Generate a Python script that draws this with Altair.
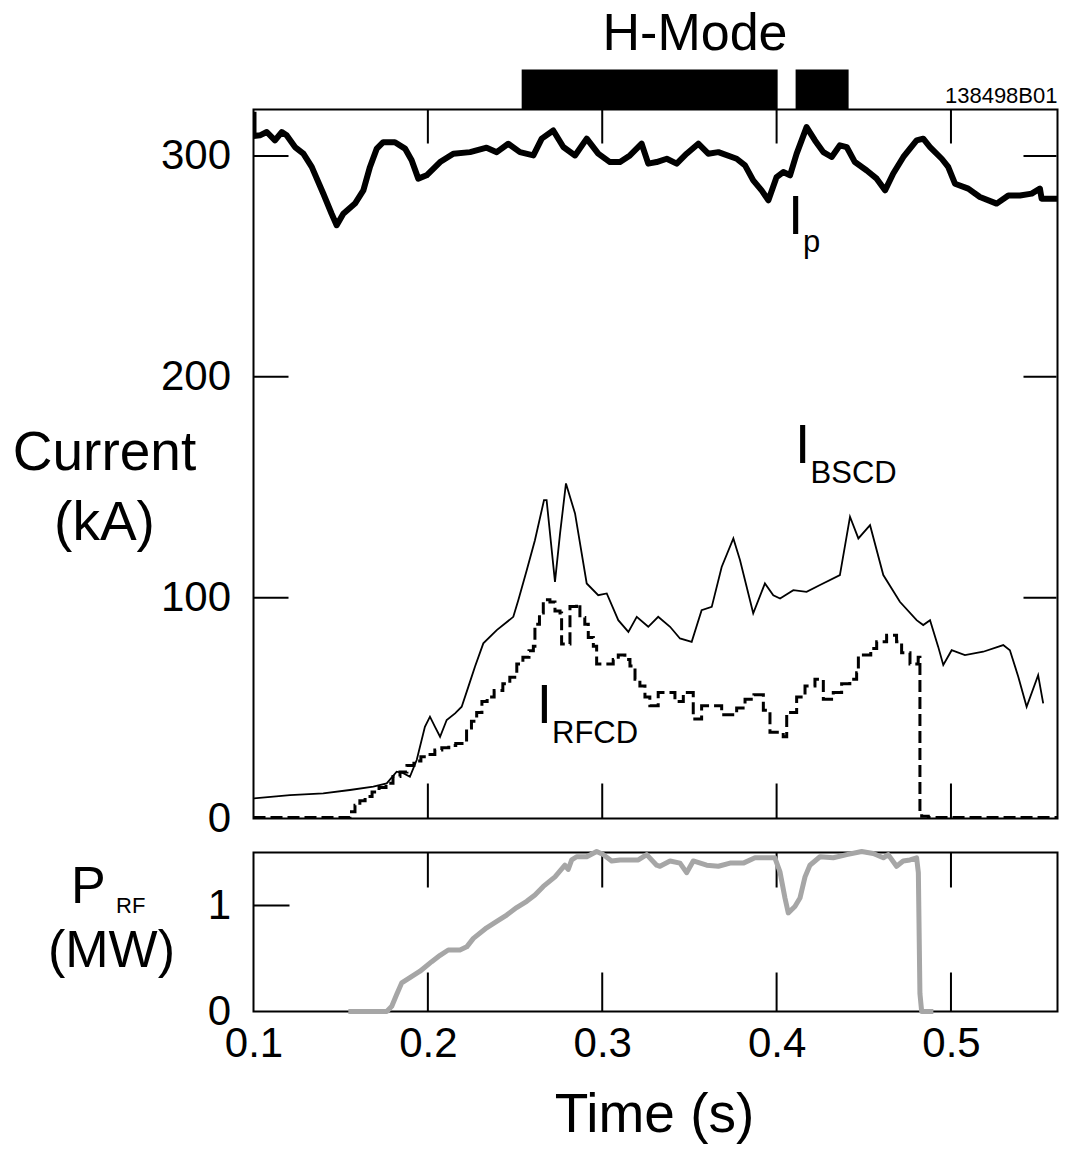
import altair as alt
import pandas as pd

FONT = "Liberation Sans"

# ---------------- data ----------------
# Plasma current I_p (kA)
ip_t = [0.1000, 0.1000, 0.1037, 0.1076, 0.1123, 0.1162, 0.1190, 0.1238, 0.1286, 0.1334,
        0.1400, 0.1448, 0.1477, 0.1515, 0.1582, 0.1630, 0.1668, 0.1707, 0.1744, 0.1811,
        0.1869, 0.1907, 0.1945, 0.1993, 0.2070, 0.2146, 0.2242, 0.2337, 0.2395, 0.2461,
        0.2528, 0.2605, 0.2653, 0.2719, 0.2777, 0.2844, 0.2911, 0.2977, 0.3044, 0.3102,
        0.3159, 0.3226, 0.3264, 0.3312, 0.3370, 0.3427, 0.3484, 0.3551, 0.3608, 0.3666,
        0.3771, 0.3819, 0.3866, 0.3914, 0.3953, 0.4000, 0.4038, 0.4077, 0.4115, 0.4172,
        0.4220, 0.4268, 0.4316, 0.4363, 0.4402, 0.4449, 0.4517, 0.4574, 0.4622, 0.4669,
        0.4727, 0.4803, 0.4841, 0.4880, 0.4947, 0.4984, 0.5023, 0.5099, 0.5166, 0.5262,
        0.5329, 0.5396, 0.5463, 0.5510, 0.5520, 0.5625]
ip_v = [320, 309, 309.3, 310.8, 307, 310.8, 309.3, 304, 301, 295,
        283, 273.8, 268.6, 273.8, 278.4, 284.4, 295, 303.3, 306.2, 306.2,
        303.3, 298, 289.7, 291.2, 297.2, 301, 301.7, 303.7, 301.7, 305.5,
        301.7, 300.2, 307.8, 311.5, 304, 300.2, 307.8, 301, 297.2, 297.2,
        300.2, 305.5, 296.5, 297.2, 298.7, 296.5, 301, 305.5, 301, 301.7,
        298.7, 295.7, 288.9, 284.4, 279.9, 290.4, 292.7, 291.2, 301, 313,
        307, 301.7, 299.5, 304.8, 304, 297.2, 293.4, 289.7, 284.4, 292,
        299.5, 307, 307.8, 304, 298.7, 295, 287.4, 285.2, 281.4, 278.4,
        282.1, 282.1, 282.9, 285.2, 280.6, 280.6]

# Bootstrap current I_BSCD (kA)
bs_t = [0.1000, 0.1209, 0.1400, 0.1553, 0.1687, 0.1764, 0.1821, 0.1859, 0.1897, 0.1936,
        0.1983, 0.2012, 0.2041, 0.2070, 0.2108, 0.2156, 0.2194, 0.2232, 0.2270, 0.2318,
        0.2395, 0.2490, 0.2519, 0.2567, 0.2614, 0.2666, 0.2681, 0.2729, 0.2758, 0.2792,
        0.2844, 0.2911, 0.2977, 0.3026, 0.3092, 0.3150, 0.3198, 0.3264, 0.3321, 0.3389,
        0.3446, 0.3513, 0.3570, 0.3628, 0.3685, 0.3752, 0.3790, 0.3866, 0.3933, 0.3981,
        0.4020, 0.4096, 0.4172, 0.4249, 0.4363, 0.4421, 0.4469, 0.4536, 0.4612, 0.4707,
        0.4803, 0.4841, 0.4880, 0.4927, 0.4956, 0.5004, 0.5080, 0.5185, 0.5300, 0.5338,
        0.5386, 0.5434, 0.5500, 0.5529]
bs_v = [9.1, 10.6, 11.4, 12.9, 14.4, 15.9, 21.2, 20.5, 18.9, 26.5,
        41.5, 46.1, 41.5, 37.0, 44.6, 47.6, 50.6, 59.6, 68.7, 79.3,
        85.3, 91.3, 98.9, 112.4, 126.0, 144.1, 144.1, 107.1, 129.0, 151.7,
        138.1, 106.4, 101.1, 101.9, 89.8, 84.5, 91.3, 86.8, 91.3, 86.8,
        81.5, 80.0, 94.3, 95.8, 113.9, 126.8, 117.0, 92.9, 106.4, 101.1,
        99.6, 103.4, 102.6, 105.7, 110.2, 136.6, 126.8, 132.8, 110.2, 98.1,
        89.8, 87.6, 89.8, 77.7, 69.5, 76.2, 74.0, 75.5, 78.5, 76.2,
        64.2, 50.6, 64.9, 52.1]

# RF driven current I_RFCD (kA), stepped
rf_t = [0.1000, 0.1553, 0.1582, 0.1610, 0.1640, 0.1680, 0.1720, 0.1760, 0.1800, 0.1840,
        0.1880, 0.1920, 0.1960, 0.2000, 0.2040, 0.2080, 0.2120, 0.2160, 0.2222, 0.2250,
        0.2280, 0.2310, 0.2340, 0.2380, 0.2430, 0.2470, 0.2510, 0.2545, 0.2580, 0.2605,
        0.2614, 0.2640, 0.2662, 0.2700, 0.2729, 0.2758, 0.2767, 0.2815, 0.2853, 0.2872,
        0.2900, 0.2920, 0.2949, 0.2968, 0.3063, 0.3092, 0.3130, 0.3159, 0.3188, 0.3216,
        0.3245, 0.3273, 0.3321, 0.3417, 0.3465, 0.3522, 0.3570, 0.3685, 0.3771, 0.3819,
        0.3870, 0.3924, 0.3962, 0.4038, 0.4058, 0.4115, 0.4163, 0.4220, 0.4268, 0.4325,
        0.4373, 0.4420, 0.4459, 0.4469, 0.4540, 0.4574, 0.4631, 0.4688, 0.4717, 0.4765,
        0.4812, 0.4822, 0.4832, 0.4870, 0.5625]
rf_v = [0.5, 3, 6, 8, 10, 12, 14, 16, 19, 21,
        24, 26, 28, 29, 31, 32, 33, 34, 41, 44,
        48, 53, 55, 58, 61, 64, 70, 73, 76, 78,
        88, 93, 99, 98, 94, 93, 79, 96, 97, 91,
        88, 82, 78, 70, 72, 74, 72, 69, 63, 60,
        55, 51, 57, 53, 57, 45, 51, 47, 50, 54,
        56, 49, 39, 37, 48, 55, 60, 63, 54, 57,
        61, 63, 66, 74, 77, 80, 83, 80, 75, 70,
        73, 2, 1, 0.5, 0.5]

# RF power P_RF (MW)
pr_t = [0.1544, 0.1764, 0.1793, 0.1821, 0.1850, 0.1897, 0.1955, 0.2022, 0.2070, 0.2117,
        0.2184, 0.2223, 0.2261, 0.2337, 0.2395, 0.2452, 0.2509, 0.2567, 0.2614, 0.2662,
        0.2729, 0.2786, 0.2805, 0.2825, 0.2853, 0.2911, 0.2968, 0.3006, 0.3054, 0.3102,
        0.3150, 0.3207, 0.3255, 0.3312, 0.3331, 0.3389, 0.3446, 0.3484, 0.3522, 0.3599,
        0.3666, 0.3733, 0.3809, 0.3876, 0.3933, 0.3990, 0.4019, 0.4048, 0.4067, 0.4105,
        0.4134, 0.4163, 0.4191, 0.4249, 0.4325, 0.4402, 0.4488, 0.4554, 0.4612, 0.4640,
        0.4688, 0.4726, 0.4765, 0.4803, 0.4813, 0.4822, 0.4832, 0.4899]
pr_v = [0, 0, 0.05, 0.16, 0.27, 0.32, 0.38, 0.47, 0.53, 0.58,
        0.58, 0.61, 0.69, 0.79, 0.85, 0.91, 0.98, 1.04, 1.10, 1.18,
        1.27, 1.38, 1.34, 1.43, 1.46, 1.46, 1.51, 1.48, 1.42, 1.43,
        1.43, 1.43, 1.48, 1.38, 1.37, 1.42, 1.40, 1.31, 1.42, 1.38,
        1.37, 1.40, 1.40, 1.45, 1.45, 1.45, 1.32, 1.07, 0.93, 0.99,
        1.07, 1.27, 1.38, 1.46, 1.45, 1.48, 1.51, 1.49, 1.45, 1.48,
        1.37, 1.42, 1.43, 1.45, 1.31, 0.17, 0, 0]

# H-mode intervals (s)
hmode_start = [0.2538, 0.4109]
hmode_end = [0.4006, 0.4413]

# tick values
x_labels = [0.1, 0.2, 0.3, 0.4, 0.5]
x_inner_ticks = [0.2, 0.3, 0.4, 0.5]
y_top_labels = [0, 100, 200, 300]
y_top_ticks = [100, 200, 300]
y_bot_labels = [0, 1]
y_bot_ticks = [1]

# ---------------- layout ----------------
W = 804
H_TOP = 709
H_BOT = 159

XS = alt.Scale(domain=[0.1, 0.5611], nice=False, zero=False)
YS_TOP = alt.Scale(domain=[0, 321], nice=False, zero=False)
YS_BOT = alt.Scale(domain=[0, 1.5], nice=False, zero=False)

y_axis_top = alt.Axis(values=y_top_labels, ticks=False, domain=False, grid=False,
                      labelFontSize=42, labelFont=FONT, labelColor="black",
                      labelPadding=23, labelFlush=False, title=None)
y_axis_bot = alt.Axis(values=y_bot_labels, ticks=False, domain=False, grid=False,
                      labelFontSize=42, labelFont=FONT, labelColor="black",
                      labelPadding=23, labelFlush=False, title=None)
x_axis_bot = alt.Axis(values=x_labels, format=".1f", ticks=False, domain=False, grid=False,
                      labelFontSize=42, labelFont=FONT, labelColor="black",
                      labelPadding=12, labelFlush=False, labelOverlap=False, title=None)


def series(t, v):
    return pd.DataFrame({"t": t, "v": v, "i": list(range(len(t)))})


one = pd.DataFrame({"k": [0]})


def txt(text, x, y, size, align="left", baseline="alphabetic"):
    return alt.Chart(one).mark_text(
        text=text, font=FONT, fontSize=size, align=align, baseline=baseline, color="black"
    ).encode(x=x, y=y)


def xt(v):
    return alt.X(datum=v, type="quantitative", scale=XS, axis=None)


def yt(v):
    return alt.Y(datum=v, type="quantitative", scale=YS_TOP, axis=y_axis_top)


# ---------------- top panel ----------------
X_TOP = alt.X("t:Q", scale=XS, axis=None)
Y_TOP = alt.Y("v:Q", scale=YS_TOP, axis=y_axis_top)

ip_line = alt.Chart(series(ip_t, ip_v)).mark_line(
    color="black", strokeWidth=6, strokeJoin="round", clip=True
).encode(x=X_TOP, y=Y_TOP, order="i:Q")

bs_line = alt.Chart(series(bs_t, bs_v)).mark_line(
    color="black", strokeWidth=1.8
).encode(x=X_TOP, y=Y_TOP, order="i:Q")

rf_line = alt.Chart(series(rf_t, rf_v)).mark_line(
    color="black", strokeWidth=3, strokeDash=[12, 5], interpolate="step-after", clip=True
).encode(x=X_TOP, y=Y_TOP, order="i:Q")

xt_df = pd.DataFrame({"t": x_inner_ticks})
ytop_df = pd.DataFrame({"v": y_top_ticks})

top_xticks_up = alt.Chart(xt_df).mark_rule(color="black", strokeWidth=2).encode(
    x=X_TOP, y=alt.value(0), y2=alt.value(34))
top_xticks_dn = alt.Chart(xt_df).mark_rule(color="black", strokeWidth=2).encode(
    x=X_TOP, y=alt.value(H_TOP - 35), y2=alt.value(H_TOP))
top_yticks_l = alt.Chart(ytop_df).mark_rule(color="black", strokeWidth=2).encode(
    y=Y_TOP, x=alt.value(0), x2=alt.value(35))
top_yticks_r = alt.Chart(ytop_df).mark_rule(color="black", strokeWidth=2).encode(
    y=Y_TOP, x=alt.value(W - 34), x2=alt.value(W - 1))

hmode = alt.Chart(pd.DataFrame({"s": hmode_start, "e": hmode_end})).mark_rect(
    color="black").encode(
    x=alt.X("s:Q", scale=XS, axis=None), x2="e:Q", y=alt.value(-40), y2=alt.value(0))

top_texts = [
    txt("H-Mode", xt(0.3532), alt.value(-60), 52, align="center"),
    txt("138498B01", alt.value(W), alt.value(-7), 22, align="right"),
    txt("Current", alt.value(-149), alt.value(360), 55, align="center"),
    txt("(kA)", alt.value(-149), alt.value(430), 55, align="center"),
    txt("I", xt(0.4065), yt(264.5), 55),
    txt("p", xt(0.4152), yt(256.3), 31),
    txt("I", xt(0.4105), yt(160.9), 55),
    txt("BSCD", xt(0.4195), yt(151.8), 31),
    txt("I", xt(0.2624), yt(43.2), 55),
    txt("RFCD", xt(0.2712), yt(34.2), 31),
]

top = alt.layer(
    top_xticks_up, top_xticks_dn, top_yticks_l, top_yticks_r,
    bs_line, rf_line, ip_line, hmode, *top_texts
).properties(width=W, height=H_TOP)

# ---------------- bottom panel ----------------
X_BOT = alt.X("t:Q", scale=XS, axis=x_axis_bot)
Y_BOT = alt.Y("v:Q", scale=YS_BOT, axis=y_axis_bot)

pr_line = alt.Chart(series(pr_t, pr_v)).mark_line(
    color="#a6a6a6", strokeWidth=5, strokeJoin="round"
).encode(x=X_BOT, y=Y_BOT, order="i:Q")

ybot_df = pd.DataFrame({"v": y_bot_ticks})
bot_xticks_up = alt.Chart(xt_df).mark_rule(color="black", strokeWidth=2).encode(
    x=X_BOT, y=alt.value(0), y2=alt.value(35))
bot_xticks_dn = alt.Chart(xt_df).mark_rule(color="black", strokeWidth=2).encode(
    x=X_BOT, y=alt.value(H_BOT - 39), y2=alt.value(H_BOT))
bot_yticks_l = alt.Chart(ybot_df).mark_rule(color="black", strokeWidth=2).encode(
    y=Y_BOT, x=alt.value(0), x2=alt.value(36))

bot_texts = [
    txt("P", alt.value(-182.5), alt.value(50), 52),
    txt("RF", alt.value(-137.5), alt.value(60), 22),
    txt("(MW)", alt.value(-142), alt.value(114), 52, align="center"),
    txt("Time (s)", alt.value(401), alt.value(279), 55, align="center"),
]

bottom = alt.layer(
    bot_xticks_up, bot_xticks_dn, bot_yticks_l, pr_line, *bot_texts
).properties(width=W, height=H_BOT)

chart = alt.vconcat(top, bottom, spacing=34, bounds="flush").properties(
    padding={"left": 3.5, "top": -1.5, "right": 0, "bottom": 0},
    background="white",
).configure_view(stroke="black", strokeWidth=2)

chart.save("out.html", embed_options={"renderer": "svg", "actions": False})
